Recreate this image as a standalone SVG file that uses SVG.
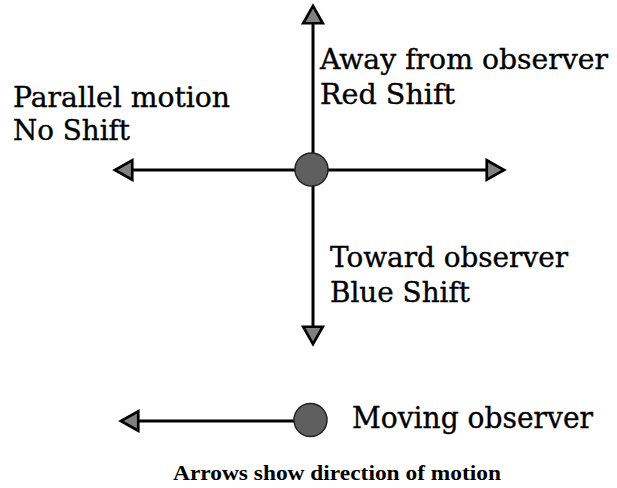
<svg xmlns="http://www.w3.org/2000/svg" width="617" height="488" viewBox="0 0 617 488">
  <style>
    .axis { stroke: #000; stroke-width: 3; fill: none; }
    .dot { fill: #5f5f5f; stroke: #222; stroke-width: 1.5; }
    .lbl { font-family: "DejaVu Serif", "Liberation Serif", serif; font-size: 27px; fill: #000; stroke: #000; stroke-width: 0.35; }
    .big { font-size: 29px; }
    .note { font-family: "Liberation Serif", "Times New Roman", serif; font-size: 21px; font-weight: bold; fill: #000; }
  </style>
  <defs>
    <marker id="tri" markerUnits="userSpaceOnUse" markerWidth="24" markerHeight="26" viewBox="-2 -12 22 24" refX="3" refY="0" orient="auto">
      <path d="M0,-9 L16,0 L0,9 Z" fill="#808080" stroke="#000" stroke-width="2.5" stroke-linejoin="miter"/>
    </marker>
  </defs>
  <rect width="617" height="488" fill="#fff"/>

  <!-- direction arrows -->
  <g id="connectors">
    <line class="axis" x1="313" y1="169" x2="313" y2="20" marker-end="url(#tri)"/>
    <line class="axis" x1="313" y1="169" x2="313" y2="330" marker-end="url(#tri)"/>
    <line class="axis" x1="311" y1="170" x2="129" y2="170" marker-end="url(#tri)"/>
    <line class="axis" x1="311" y1="170" x2="490" y2="170" marker-end="url(#tri)"/>
    <line class="axis" x1="310" y1="421" x2="135" y2="421" marker-end="url(#tri)"/>
  </g>

  <!-- moving source -->
  <g id="source">
    <circle class="dot" cx="311.5" cy="169.5" r="16.5"/>
  </g>

  <g id="label-away">
    <text class="lbl" x="320" y="69" textLength="288" lengthAdjust="spacingAndGlyphs">Away from observer</text>
    <text class="lbl" x="320" y="104" textLength="135" lengthAdjust="spacingAndGlyphs">Red Shift</text>
  </g>
  <g id="label-parallel">
    <text class="lbl" x="13" y="107" textLength="217" lengthAdjust="spacingAndGlyphs">Parallel motion</text>
    <text class="lbl" x="13" y="140" textLength="117" lengthAdjust="spacingAndGlyphs">No Shift</text>
  </g>
  <g id="label-toward">
    <text class="lbl" x="330" y="267" textLength="238" lengthAdjust="spacingAndGlyphs">Toward observer</text>
    <text class="lbl" x="330" y="302" textLength="140" lengthAdjust="spacingAndGlyphs">Blue Shift</text>
  </g>

  <!-- legend -->
  <g id="observer">
    <circle class="dot" cx="310.5" cy="420" r="16.5"/>
    <text class="lbl big" x="352" y="428" textLength="241" lengthAdjust="spacingAndGlyphs">Moving observer</text>
  </g>
  <g id="caption">
    <text class="note" x="173" y="480" textLength="328" lengthAdjust="spacingAndGlyphs">Arrows show direction of motion</text>
  </g>
</svg>
